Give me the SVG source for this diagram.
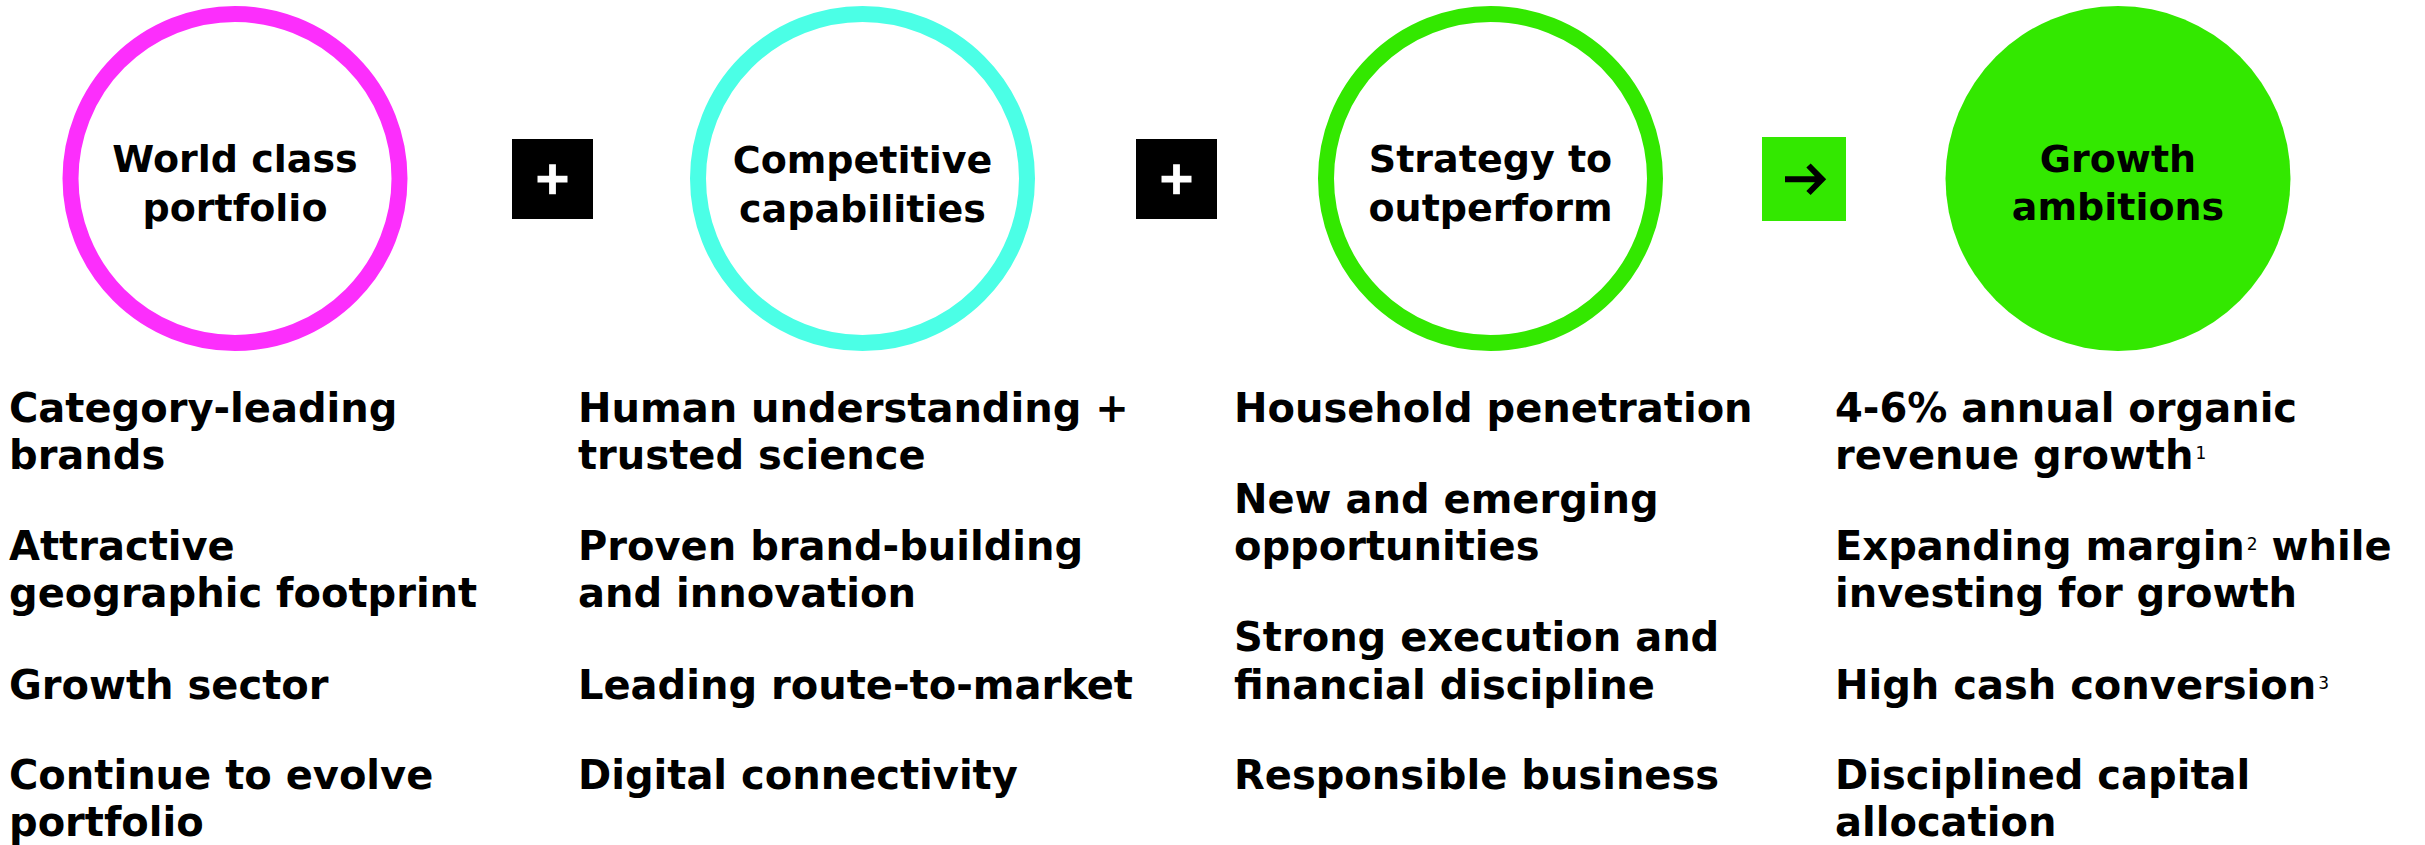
<svg xmlns="http://www.w3.org/2000/svg" width="2425" height="845" viewBox="0 0 2425 845">
<style>
.lbl{font-family:"DejaVu Sans","Verdana",sans-serif;font-weight:bold;font-size:38px;fill:#000;text-anchor:middle}
.item{font-family:"DejaVu Sans","Verdana",sans-serif;font-weight:bold;font-size:40px;fill:#000}
.sup{font-weight:normal;font-size:17px}
.ring{fill:#fff;stroke-width:16}
</style>
<rect width="2425" height="845" fill="#fff"/>
<g id="connectors">
  <g id="plus1">
    <rect x="512" y="139" width="81" height="80" fill="#000"/>
    <path d="M537.5 179.2H567.5M552.5 164.2V194.2" stroke="#fff" stroke-width="6.8" fill="none"/>
  </g>
  <g id="plus2">
    <rect x="1136" y="139" width="81" height="80" fill="#000"/>
    <path d="M1161.5 179.2H1191.5M1176.5 164.2V194.2" stroke="#fff" stroke-width="6.8" fill="none"/>
  </g>
  <g id="arrow">
    <rect x="1762" y="137" width="84" height="84" fill="#33E800"/>
    <path d="M1785 179.3H1821M1808.5 165.5L1822 179.3L1808.5 193" stroke="#000" stroke-width="6" fill="none"/>
  </g>
</g>
<g id="portfolio">
  <circle class="ring" cx="235" cy="178.5" r="164.5" stroke="#FC2EFC"/>
  <text class="lbl" x="235" y="172">World class</text>
  <text class="lbl" x="235" y="221">portfolio</text>
  <text class="item" x="9"><tspan x="9" y="422">Category-leading</tspan><tspan x="9" y="469">brands</tspan><tspan x="9" y="560">Attractive</tspan><tspan x="9" y="607">geographic footprint</tspan><tspan x="9" y="699">Growth sector</tspan><tspan x="9" y="789">Continue to evolve</tspan><tspan x="9" y="836">portfolio</tspan></text>
</g>
<g id="capabilities">
  <circle class="ring" cx="862.5" cy="178.5" r="164.5" stroke="#4BFFE6"/>
  <text class="lbl" x="862.5" y="173">Competitive</text>
  <text class="lbl" x="862.5" y="221.5">capabilities</text>
  <text class="item" x="578"><tspan x="578" y="422">Human understanding +</tspan><tspan x="578" y="469">trusted science</tspan><tspan x="578" y="560">Proven brand-building</tspan><tspan x="578" y="607">and innovation</tspan><tspan x="578" y="699">Leading route-to-market</tspan><tspan x="578" y="789">Digital connectivity</tspan></text>
</g>
<g id="strategy">
  <circle class="ring" cx="1490.5" cy="178.5" r="164.5" stroke="#33E800"/>
  <text class="lbl" x="1490.5" y="172">Strategy to</text>
  <text class="lbl" x="1490.5" y="221">outperform</text>
  <text class="item" x="1234"><tspan x="1234" y="422">Household penetration</tspan><tspan x="1234" y="513">New and emerging</tspan><tspan x="1234" y="560">opportunities</tspan><tspan x="1234" y="651">Strong execution and</tspan><tspan x="1234" y="699">financial discipline</tspan><tspan x="1234" y="789">Responsible business</tspan></text>
</g>
<g id="growth">
  <circle cx="2118" cy="178.5" r="172.5" fill="#33E800"/>
  <text class="lbl" x="2118" y="171.5">Growth</text>
  <text class="lbl" x="2118" y="220">ambitions</text>
  <text class="item" x="1835"><tspan x="1835" y="422">4-6% annual organic</tspan><tspan x="1835" y="469">revenue growth</tspan><tspan class="sup" dx="2" y="459">1</tspan><tspan x="1835" y="560">Expanding margin</tspan><tspan class="sup" dx="2" y="550">2</tspan><tspan y="560"> while</tspan><tspan x="1835" y="607">investing for growth</tspan><tspan x="1835" y="699">High cash conversion</tspan><tspan class="sup" dx="2" y="689">3</tspan><tspan x="1835" y="789">Disciplined capital</tspan><tspan x="1835" y="836">allocation</tspan></text>
</g>
</svg>
